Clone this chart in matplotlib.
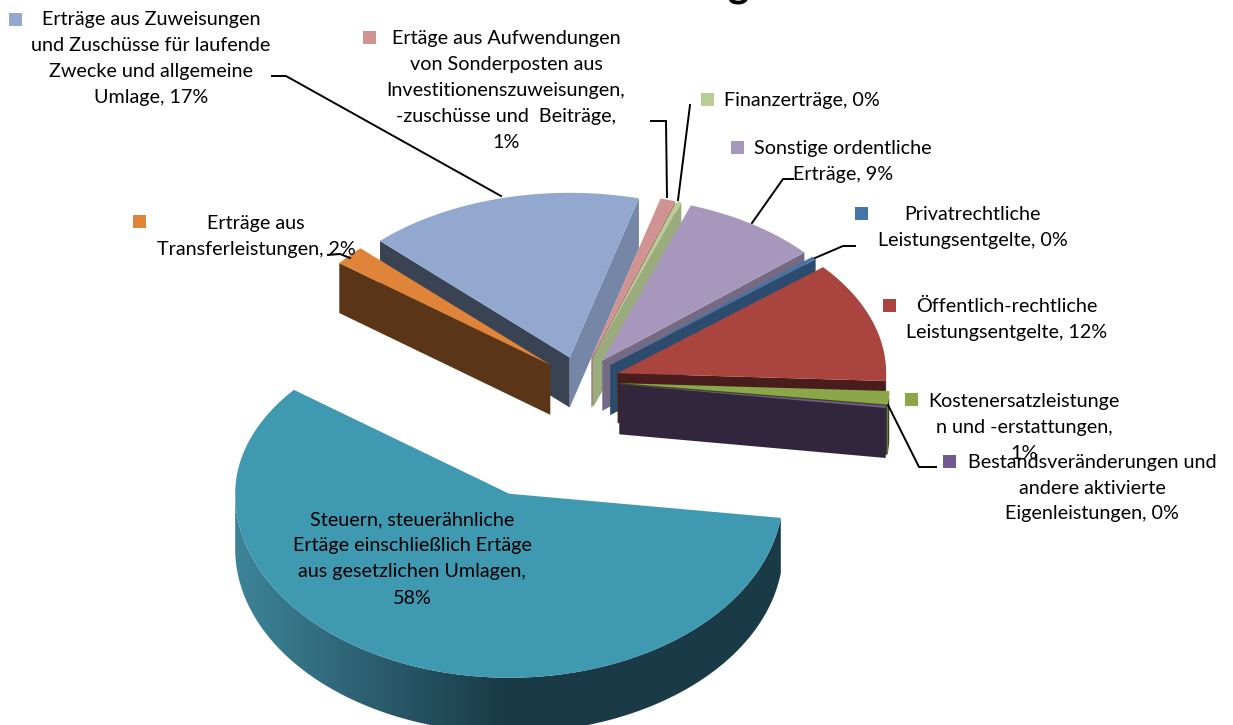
import matplotlib
matplotlib.use("Agg")
import matplotlib.pyplot as plt
from matplotlib.colors import LinearSegmentedColormap, to_rgb
from matplotlib.patches import Polygon, Rectangle
import numpy as np

plt.rcParams['font.family'] = ['Lato', 'DejaVu Sans']

# data, clockwise from the left edge of the small orange slice
names = ["Transfer", "Zuweisungen", "Sonderposten", "Finanz", "Sonstige",
         "Privat", "Oeffentlich", "Kostenersatz", "Bestand", "Steuern"]
values = [1.9, 16.6, 0.9, 0.3, 8.2, 0.3, 11.8, 1.2, 0.2, 58.4]
colors = ["#e0843a", "#92a8cf", "#d19392", "#b7cd95", "#a797bc",
          "#4574a8", "#a9443f", "#8aa74a", "#71588f", "#3f99b0"]

labels = ["Erträge aus\nTransferleistungen, 2%",
          "Erträge aus Zuweisungen\nund Zuschüsse für laufende\nZwecke und allgemeine\nUmlage, 17%",
          "Ertäge aus Aufwendungen\nvon Sonderposten aus\nInvestitionenszuweisungen,\n-zuschüsse und  Beiträge,\n1%",
          "Finanzerträge, 0%",
          "Sonstige ordentliche\nErträge, 9%",
          "Privatrechtliche\nLeistungsentgelte, 0%",
          "Öffentlich-rechtliche\nLeistungsentgelte, 12%",
          "Kostenersatzleistunge\nn und -erstattungen,\n1%",
          "Bestandsveränderungen und\nandere aktivierte\nEigenleistungen, 0%",
          "Steuern, steuerähnliche\nErtäge einschließlich Ertäge\naus gesetzlichen Umlagen,\n58%"]

# layout in pixels
start_angle = 141.8
cx, cy = 580, 381
rx, ry_up, ry_down = 274, 168, 184
radius = [0.98] * 7 + [0.985, 0.98, 1.0]
explode = [0.145] * 9 + [0.665]
depth = [50] * 9 + [55]
lo_shade = [0.4, 0.8, 0.8, 0.84, 0.7, 0.65, 0.43, 0.43, 0.43, 0.4]
hi_shade = [0.4, 0.4, 0.8, 0.8, 0.7, 0.65, 0.43, 0.43, 0.43, 0.4]
draw_order = [1, 0, 2, 3, 4, 5, 6, 7, 8, 9]

label_xy = [(256, 223), (151, 19), (506, 38), (724, 100), (843, 148),
            (973, 214), (1007, 306), (1024, 401), (1092, 462), (412, 520)]
key_xy = [(139, 221), (15, 19), (369, 37), (707, 99), (737, 147),
          (861, 213), (889, 305), (911, 399), (949, 461), None]
leaders = [[(328, 255), (340, 254), (350, 258)],
           [(272, 76), (286, 76), (501, 196)],
           [(651, 121), (666, 121), (667, 197)],
           [(690, 105), (678, 200)],
           [(793, 179), (783, 179), (752, 223)],
           [(855, 246), (843, 246), (815, 258)],
           [(888, 405), (919, 467), (936, 467)]]


def unit(a):
    s = np.sin(np.radians(a))
    c = np.cos(np.radians(a))
    return rx * c, np.where(s > 0, -ry_up * s, -ry_down * s)


def shade(col, k):
    return tuple(np.array(to_rgb(col)) * k)


fig = plt.figure(figsize=(12.33, 7.25), dpi=100)
ax = fig.add_axes([0, 0, 1, 1])

rim_cmap = LinearSegmentedColormap.from_list("rim", ["#3d8498", "#1a3a47"])

sweep = np.array(values) / sum(values) * 360
hi_angles = start_angle - np.concatenate([[0], np.cumsum(sweep)[:-1]])
lo_angles = hi_angles - sweep

z = 1
for i in draw_order:
    hi, lo = hi_angles[i], lo_angles[i]
    ux, uy = unit((hi + lo) / 2)
    ax0 = cx + explode[i] * ux
    ay0 = cy + explode[i] * uy
    d = depth[i]
    r = radius[i]
    arc = np.linspace(lo, hi, max(int(hi - lo) * 2, 6))
    px, py = unit(arc)
    px = ax0 + r * px
    py = ay0 + r * py

    # radial walls, only the ones that face the viewer
    for ang, k, seen in [(hi, hi_shade[i], np.cos(np.radians(hi)) < 0),
                         (lo, lo_shade[i], np.cos(np.radians(lo)) > 0)]:
        if seen:
            ex = ax0 + r * unit(ang)[0]
            ey = ay0 + r * unit(ang)[1]
            ax.add_patch(Polygon([(ax0, ay0), (ex, ey), (ex, ey + d), (ax0, ay0 + d)],
                                 fc=shade(colors[i], k), ec='none', zorder=z))

    # outer rim on the front half
    front = np.sin(np.radians(arc)) < 0
    if front.sum() > 1:
        fx, fy = px[front], py[front]
        rim_pts = np.column_stack([np.r_[fx, fx[::-1]], np.r_[fy, fy[::-1] + d]])
        if names[i] == "Steuern":
            # left part of the big rim fades from teal to near black
            poly = Polygon(rim_pts, fc='none', ec='none', zorder=z)
            ax.add_patch(poly)
            grad = np.clip((np.linspace(fx.min(), fx.max(), 400) - fx.min()) / 270, 0, 1)
            im = ax.imshow(grad[np.newaxis, :], cmap=rim_cmap, vmin=0, vmax=1, aspect='auto',
                           extent=(fx.min(), fx.max(), fy.max() + d, fy.min()), zorder=z)
            im.set_clip_path(poly)
        else:
            ax.add_patch(Polygon(rim_pts, fc=shade(colors[i], lo_shade[i]), ec='none', zorder=z))

    # top of the slice
    ax.add_patch(Polygon(np.column_stack([np.r_[ax0, px], np.r_[ay0, py]]),
                         fc=colors[i], ec='none', zorder=z + 0.5))
    z += 1

for line in leaders:
    xs, ys = zip(*line)
    ax.plot(xs, ys, color='black', lw=1.4, zorder=20, solid_joinstyle='miter')

for i in range(len(labels)):
    x, y = label_xy[i]
    ha = 'left' if labels[i].startswith("Finanz") else 'center'
    for n, part in enumerate(labels[i].split("\n")):
        ax.text(x, y + n * 26, part, ha=ha, va='center', fontsize=14.2,
                color='black', zorder=30)
    if key_xy[i] is not None:
        kx, ky = key_xy[i]
        ax.add_patch(Rectangle((kx - 6.5, ky - 6.5), 13, 13, fc=colors[i], ec='none', zorder=25))

# title is cut off by the top edge, only the descender shows
ax.text(739, -4, "g", ha='center', va='baseline', fontsize=29, fontweight='bold',
        color='black', clip_on=True, zorder=30)

ax.set_xlim(0, 1233)
ax.set_ylim(725, 0)
ax.axis('off')

fig.savefig("out.png", dpi=100)
